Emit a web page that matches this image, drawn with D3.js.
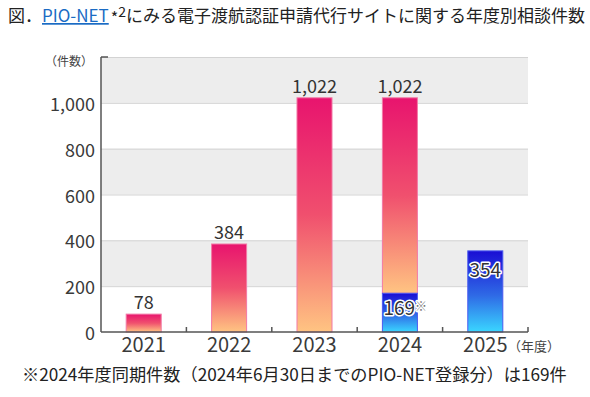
<!DOCTYPE html>
<html>
<head>
<meta charset="utf-8">
<script src="https://cdn.jsdelivr.net/npm/d3@7"></script>
<style>
  body { margin: 0; background: #fff; }
  text { font-family: "Noto Sans CJK JP", "Noto Sans", sans-serif; }
</style>
</head>
<body>
<div id="vis"></div>
<script>
// data
var years = ["2021", "2022", "2023", "2024", "2025"];
var counts = [78, 384, 1022, 1022, 354];
var samePeriod2024 = 169;              // 2024 count up to June 30
var partialYear = "2025";              // year drawn in blue (still running)
var yTicks = [0, 200, 400, 600, 800, 1000];
var yMax = 1200;

var width = 590, height = 397;
var margin = { top: 57, right: 62, bottom: 65, left: 101 };

var svg = d3.select("#vis").append("svg").attr("width", width).attr("height", height);

// gradients
var defs = svg.append("defs");
var pink = defs.append("linearGradient").attr("id", "pink").attr("x1", 0).attr("y1", 0).attr("x2", 0).attr("y2", 1);
pink.append("stop").attr("offset", "0%").attr("stop-color", "#e8146e");
pink.append("stop").attr("offset", "50%").attr("stop-color", "#f0506e");
pink.append("stop").attr("offset", "100%").attr("stop-color", "#ffc482");
var blue = defs.append("linearGradient").attr("id", "blue").attr("x1", 0).attr("y1", 0).attr("x2", 0).attr("y2", 1);
blue.append("stop").attr("offset", "0%").attr("stop-color", "#1a0ed4");
blue.append("stop").attr("offset", "55%").attr("stop-color", "#2f6ae6");
blue.append("stop").attr("offset", "100%").attr("stop-color", "#3ad6ff");

var x = d3.scaleBand().domain(years)
    .range([margin.left, width - margin.right])
    .paddingInner(0.59).paddingOuter(0.295);
var y = d3.scaleLinear().domain([0, yMax]).range([height - margin.bottom, margin.top]);

// alternating bands, gray on top
var bandEdges = yTicks.concat([yMax]);
for (var i = 0; i < bandEdges.length - 1; i++) {
    if (i % 2 == 1) {
        svg.append("rect")
            .attr("x", margin.left).attr("width", width - margin.right - margin.left)
            .attr("y", y(bandEdges[i + 1])).attr("height", y(bandEdges[i]) - y(bandEdges[i + 1]))
            .attr("fill", "#ededed");
    }
}
svg.selectAll(".grid").data(yTicks.slice(1).concat([yMax])).enter().append("line")
    .attr("class", "grid")
    .attr("x1", margin.left).attr("x2", width - margin.right)
    .attr("y1", function(d) { return y(d) + 0.5; }).attr("y2", function(d) { return y(d) + 0.5; })
    .attr("stroke", "#d3d3d3").attr("stroke-width", 1);

// y axis labels
svg.selectAll(".ylab").data(yTicks).enter().append("text")
    .attr("x", 95).attr("y", function(d) { return y(d) + 8; })
    .attr("text-anchor", "end").attr("font-size", 18).attr("fill", "#3a3a3a")
    .text(d3.format(","));
svg.append("text").attr("x", 45).attr("y", 66).attr("font-size", 12).attr("fill", "#444").text("（件数）");

// bars
var bars = svg.selectAll(".bar").data(years).enter();
bars.append("rect")
    .attr("x", function(d) { return x(d); })
    .attr("width", x.bandwidth())
    .attr("y", function(d, i) { return y(counts[i]); })
    .attr("height", function(d, i) {
        var bottom = d == "2024" ? samePeriod2024 : 0;
        return y(bottom) - y(counts[i]);
    })
    .attr("fill", function(d) { return d == partialYear ? "url(#blue)" : "url(#pink)"; })
    .attr("stroke", function(d) { return d == partialYear ? "#4a5af0" : "#f27aa6"; })
    .attr("stroke-width", 1);
svg.append("rect")
    .attr("x", x("2024")).attr("width", x.bandwidth())
    .attr("y", y(samePeriod2024)).attr("height", y(0) - y(samePeriod2024))
    .attr("fill", "url(#blue)").attr("stroke", "#4a5af0").attr("stroke-width", 1);

// value labels above pink bars
bars.filter(function(d) { return d != partialYear; }).append("text")
    .attr("x", function(d) { return x(d) + x.bandwidth() / 2; })
    .attr("y", function(d, i) { return y(counts[years.indexOf(d)]) - 5; })
    .attr("text-anchor", "middle").attr("font-size", 18).attr("fill", "#333")
    .text(function(d) { return d3.format(",")(counts[years.indexOf(d)]); });

// labels inside blue parts, with white halo
var i25 = years.indexOf(partialYear);
svg.append("text")
    .attr("x", x(partialYear) + x.bandwidth() / 2).attr("y", y(counts[i25]) + 26)
    .attr("text-anchor", "middle").attr("font-size", 19).attr("fill", "#333")
    .attr("stroke", "#fff").attr("stroke-width", 3).attr("paint-order", "stroke")
    .attr("stroke-linejoin", "round")
    .text(counts[i25]);
var t169 = svg.append("text")
    .attr("x", x("2024") + 1).attr("y", y(samePeriod2024) + 22)
    .attr("font-size", 19).attr("fill", "#333")
    .attr("stroke", "#fff").attr("stroke-width", 3).attr("paint-order", "stroke")
    .attr("stroke-linejoin", "round");
t169.append("tspan").text(samePeriod2024);
t169.append("tspan").attr("font-size", 12).attr("dy", -4).attr("fill", "#777").text("※");

// axes lines
var axisColor = "#555";
svg.append("line").attr("x1", margin.left).attr("x2", margin.left)
    .attr("y1", margin.top).attr("y2", y(0)).attr("stroke", axisColor).attr("stroke-width", 1.5);
svg.append("line").attr("x1", margin.left).attr("x2", margin.left + 7)
    .attr("y1", margin.top).attr("y2", margin.top).attr("stroke", axisColor).attr("stroke-width", 1.5);
svg.append("line").attr("x1", margin.left).attr("x2", width - margin.right)
    .attr("y1", y(0)).attr("y2", y(0)).attr("stroke", axisColor).attr("stroke-width", 1.5);
svg.selectAll(".xtick").data(years).enter().append("line")
    .attr("x1", function(d) { return x(d) - x.step() * x.paddingOuter() + x.step(); })
    .attr("x2", function(d) { return x(d) - x.step() * x.paddingOuter() + x.step(); })
    .attr("y1", y(0)).attr("y2", y(0) - 5)
    .attr("stroke", axisColor).attr("stroke-width", 1.5);

// x labels
svg.selectAll(".xlab").data(years).enter().append("text")
    .attr("x", function(d) { return x(d) + x.bandwidth() / 2; })
    .attr("y", 352)
    .attr("text-anchor", "middle").attr("font-size", 20).attr("fill", "#3a3a3a")
    .text(function(d) { return d; });
svg.append("text").attr("x", 508).attr("y", 351).attr("font-size", 13).attr("fill", "#444").text("（年度）");

// title
var title = svg.append("text").attr("x", 8).attr("y", 22).attr("font-size", 17).attr("fill", "#222");
title.append("tspan").text("図．");
title.append("tspan").attr("fill", "#1a6bc4").attr("text-decoration", "underline").text("PIO-NET");
title.append("tspan").attr("dx", 2).attr("font-size", 16).attr("dy", 2).text("*");
title.append("tspan").attr("font-size", 14).attr("dy", -7).text("2");
title.append("tspan").attr("dy", 5).text("にみる電子渡航認証申請代行サイトに関する年度別相談件数");

// footnote
svg.append("text").attr("x", 22).attr("y", 381).attr("font-size", 17.2).attr("fill", "#222")
    .text("※2024年度同期件数（2024年6月30日までのPIO-NET登録分）は169件");
</script>
</body>
</html>
